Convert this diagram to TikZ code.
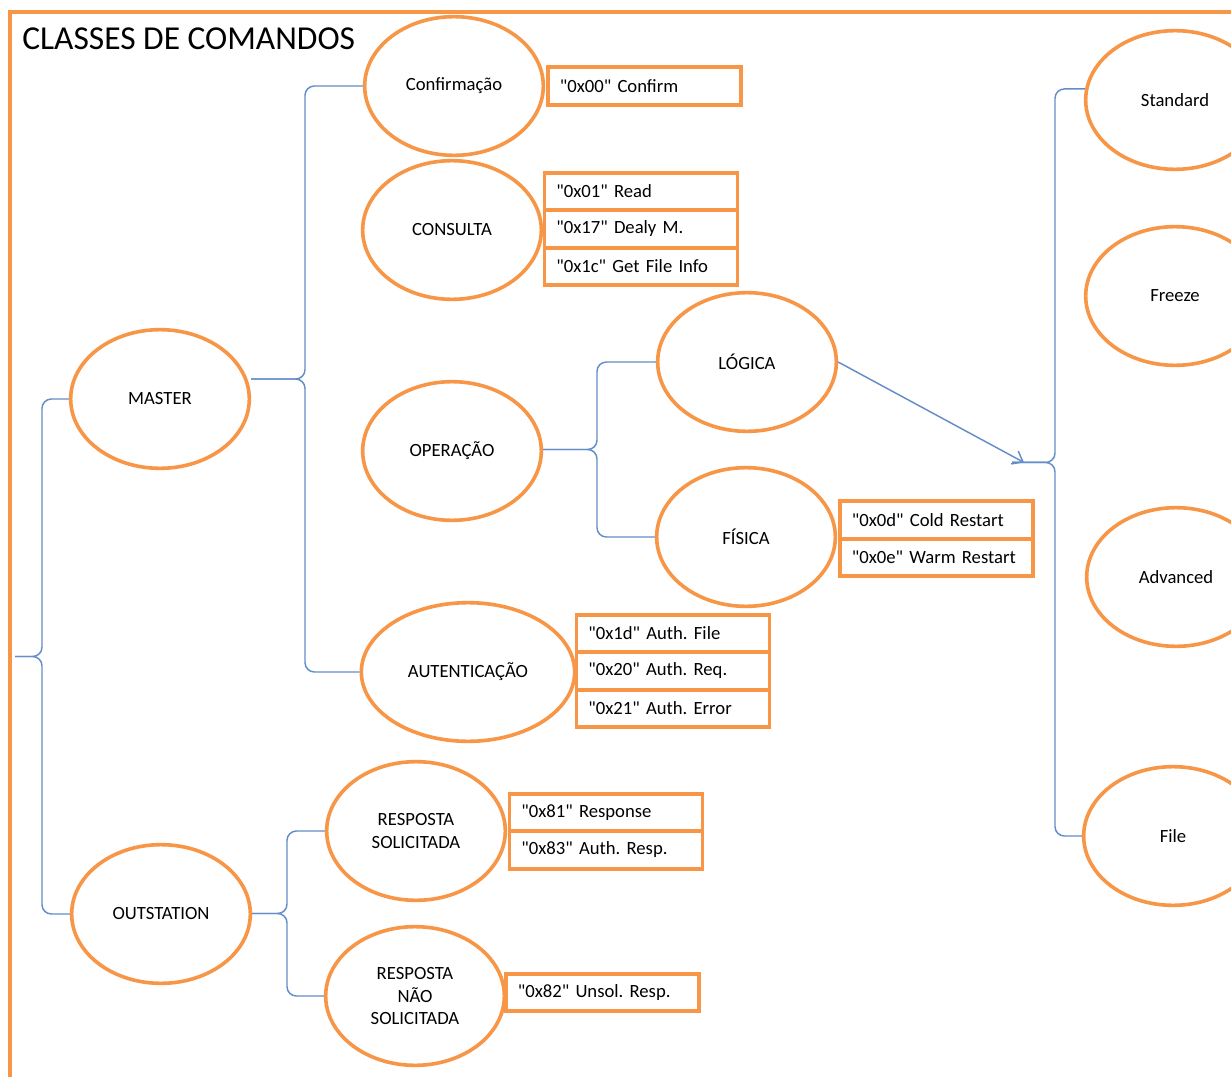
\documentclass[tikz,border=0pt]{standalone}
\usepackage{fontspec}
\setmainfont{Carlito}
\usetikzlibrary{shapes.geometric,positioning,calc,arrows.meta}
\definecolor{accent}{HTML}{F79646}
\definecolor{linkblue}{RGB}{100,142,200}
\newcommand{\qd}{\textquotedbl}
\frenchspacing
\begin{document}
\begin{tikzpicture}[x=0.75pt,y=-0.75pt,
  oval/.style={ellipse,draw=accent,line width=2.7pt,minimum width=134pt,minimum height=104pt,
    inner sep=0pt,align=center,font=\fontsize{14}{17}\selectfont},
  codebox/.style={rectangle,draw=accent,line width=2.7pt,minimum height=28.1pt,text width=127pt,
    inner xsep=9pt,inner ysep=0pt,outer sep=0pt,align=left,font=\fontsize{14}{17}\selectfont},
  link/.style={draw=linkblue,line width=1.1pt},
  curly/.style={link,rounded corners=7pt}]
\useasboundingbox (0,0) rectangle (1231,1077);
\clip (0,0) rectangle (1231,1077);
\fill[white] (0,0) rectangle (1231,1077);

% outer frame and title
\draw[accent,line width=2.7pt] (10,12) rectangle (1260,1100);
\node[anchor=base west,inner sep=0pt,font=\fontsize{25.1}{30}\selectfont] (title) at (22,50) {CLASSES DE COMANDOS};

% command classes
\node[oval] (conf) at (454,86) {Confirmação};
\node[oval] (cons) at (452,230) {CONSULTA};
\node[oval] (op) at (452,451) {OPERAÇÃO};
\node[oval] (log) at (747,362) {LÓGICA};
\node[oval] (fis) at (746,537) {FÍSICA};
\node[oval] (master) at (160,399) {MASTER};
\node[oval,minimum width=160pt] (aut) at (468,672) {AUTENTICAÇÃO};
\node[oval] (rs) at (416,831) {RESPOSTA\\SOLICITADA};
\node[oval] (out) at (161,914) {OUTSTATION};
\node[oval] (rns) at (415,996) {RESPOSTA\\NÃO\\SOLICITADA};
\node[oval] (std) at (1175,100) {Standard};
\node[oval] (frz) at (1175,296) {Freeze};
\node[oval] (adv) at (1176,577) {Advanced};
\node[oval] (file) at (1173,836) {File};

% function codes
\node[codebox] (c00) at (644.5,86) {\qd0x00\qd{} Confirm};
\node[codebox] (c01) at (641,191.5) {\qd0x01\qd{} Read};
\node[codebox,below=0pt of c01] (c17) {\qd0x17\qd{} Dealy M.};
\node[codebox,below=0pt of c17] (c1c) {\qd0x1c\qd{} Get File Info};
\node[codebox] (c0d) at (936.5,520) {\qd0x0d\qd{} Cold Restart};
\node[codebox,below=0pt of c0d] (c0e) {\qd0x0e\qd{} Warm Restart};
\node[codebox] (c1d) at (673,633.5) {\qd0x1d\qd{} Auth. File};
\node[codebox,below=0pt of c1d] (c20) {\qd0x20\qd{} Auth. Req.};
\node[codebox,below=0pt of c20] (c21) {\qd0x21\qd{} Auth. Error};
\node[codebox] (c81) at (606,812.5) {\qd0x81\qd{} Response};
\node[codebox,below=0pt of c81] (c83) {\qd0x83\qd{} Auth. Resp.};
\node[codebox] (c82) at (602.5,992.5) {\qd0x82\qd{} Unsol. Resp.};

% spines of the grouping braces
\coordinate (sL) at (42,0);
\coordinate (sM) at (305,0);
\coordinate (sO) at (597,0);
\coordinate (sS) at (287,0);
\coordinate (sR) at (1055,0);
\coordinate (xL) at (15,0);
\coordinate (xR) at (1012,0);
\coordinate (xA) at (1024,0);

% MASTER / OUTSTATION
\path ($(master.west)!.5!(out.west)$) coordinate (mL);
\draw[curly] (master.west) -| (sL |- mL) -- (xL |- mL);
\draw[curly] (out.west) -| (sL |- mL) -- (xL |- mL);

% MASTER classes
\path ($(conf.west)!.5!(aut.west)$) coordinate (mM);
\draw[curly] (conf.west) -| (sM |- mM) -- (master.east |- mM);
\draw[curly] (aut.west) -| (sM |- mM) -- (master.east |- mM);

% OPERACAO
\path ($(log.west)!.5!(fis.west)$) coordinate (mO);
\draw[curly] (log.west) -| (sO |- mO) -- (op.east |- mO);
\draw[curly] (fis.west) -| (sO |- mO) -- (op.east |- mO);

% OUTSTATION responses
\path ($(rs.west)!.5!(rns.west)$) coordinate (mS);
\draw[curly] (rs.west) -| (sS |- mS) -- (out.east |- mS);
\draw[curly] (rns.west) -| (sS |- mS) -- (out.east |- mS);

% LOGICA variants
\path ($(std.173)!.5!(file.west)$) coordinate (mR);
\draw[curly] (std.173) -| (sR |- mR) -- (xR |- mR);
\draw[curly] (file.west) -| (sR |- mR) -- (xR |- mR);
\draw[link,-{Straight Barb[length=7pt,width=11pt]}] (log.east) -- (xA |- mR);
\end{tikzpicture}
\end{document}
